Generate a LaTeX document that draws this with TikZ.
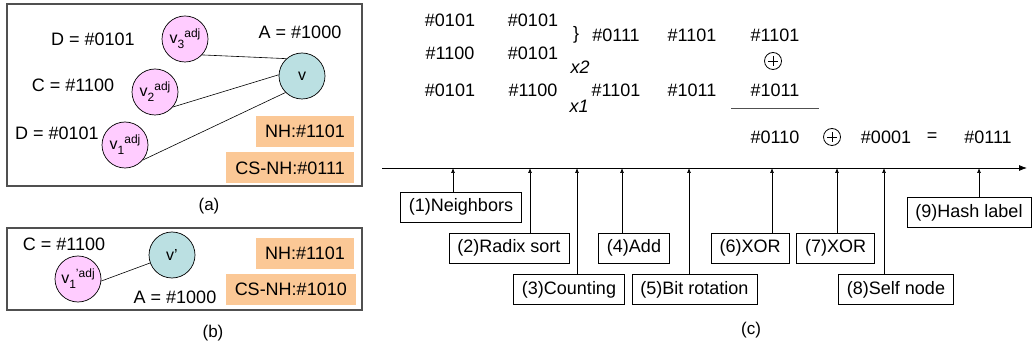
\documentclass[tikz,border=0pt]{standalone}
\usepackage{fontspec}
\setmainfont{Liberation Sans}
\usetikzlibrary{arrows.meta}
\definecolor{pinkc}{RGB}{255,204,255}
\definecolor{tealc}{RGB}{187,224,226}
\definecolor{orangec}{RGB}{251,200,150}
\definecolor{framec}{RGB}{80,80,80}
\newcommand\myvadj[2]{v\raisebox{-5pt}{\fontsize{12}{12}\selectfont #1}\raisebox{6pt}{\fontsize{12}{12}\selectfont #2}}
\begin{document}
\begin{tikzpicture}[x=1pt,y=-1pt,
  every node/.style={font=\fontsize{18}{21}\selectfont},
  frame/.style={draw=framec,line width=1.1pt},
  adjnode/.style={circle,draw,line width=0.7pt,fill=pinkc,minimum size=46pt,inner sep=0pt,font=\fontsize{16}{18}\selectfont},
  selfnode/.style={circle,draw,line width=0.7pt,fill=tealc,minimum size=46pt,inner sep=0pt,font=\fontsize{16}{18}\selectfont},
  tag/.style={fill=orangec,minimum height=31pt,inner xsep=9pt,inner ysep=0pt,anchor=east},
  link/.style={line width=0.6pt},
  stepbox/.style={draw,line width=0.7pt,minimum height=30pt,inner xsep=8.5pt,inner ysep=0pt},
  up/.style={-{Latex[length=5pt,width=4pt]},line width=0.7pt},
  xorsym/.style={circle,draw,line width=0.8pt,minimum size=17pt,inner sep=0pt,
    path picture={\draw[line width=0.8pt] ([yshift=-3.5pt]path picture bounding box.north) -- ([yshift=3.5pt]path picture bounding box.south);
                  \draw[line width=0.8pt] ([xshift=3.5pt]path picture bounding box.west) -- ([xshift=-3.5pt]path picture bounding box.east);}},
  captext/.style={font=\fontsize{17}{20}\selectfont}
]
\useasboundingbox (0,0) rectangle (1032,347);

% ---------- panel (a)
\draw[frame] (7,4) rectangle (362,186);
\node (a3) [adjnode] at (185,39) {\myvadj{3}{adj}};
\node (a2) [adjnode] at (155,92) {\myvadj{2}{adj}};
\node (a1) [adjnode] at (125,145) {\myvadj{1}{adj}};
\node (av) [selfnode] at (302,76) {v};
\draw[link] (a3.-43) -- (av.132);
\draw[link] (a2.-40) -- (av.177);
\draw[link] (a1.-40) -- (av.225);
\node (la3) at (93,39) {D = \#0101};
\node (lav) at (300,32) {A = \#1000};
\node (la2) at (73,85) {C = \#1100};
\node (la1) at (57,133) {D = \#0101};
\node (nha) [tag] at (354,131.5) {NH:\#1101};
\node (csa) [tag] at (354,168) {CS-NH:\#0111};
\node (capa) [captext] at (209,206) {(a)};

% ---------- panel (b)
\draw[frame] (7,228) rectangle (362,310);
\node (b1) [adjnode] at (78,279) {\myvadj{1}{'adj}};
\node (bv) [selfnode] at (172,255) {v'};
\draw[link] (b1.-5) -- (bv.200);
\node (lb1) at (64,244) {C = \#1100};
\node (lbv) at (175,297) {A = \#1000};
\node (nhb) [tag] at (354,253) {NH:\#1101};
\node (csb) [tag] at (356,289) {CS-NH:\#1010};
\node (capb) [captext] at (213,333) {(b)};

% ---------- panel (c): computations
\node (r1a) at (450,20) {\#0101};
\node (r1b) at (533,20) {\#0101};
\node (r2a) at (450,53) {\#1100};
\node (r2b) at (533,53) {\#0101};
\node (r3a) at (450,90) {\#0101};
\node (r3b) at (533,90) {\#1100};
\node (br) at (576,35) {\}};
\node (x2) at (580,67) {\textit{x2}};
\node (x1) at (579,106) {\textit{x1}};
\node (c1) at (616,35) {\#0111};
\node (c2) at (692,35) {\#1101};
\node (c3) at (775,35) {\#1101};
\node (d1) at (616,90) {\#1101};
\node (d2) at (692,90) {\#1011};
\node (d3) at (775,90) {\#1011};
\node (xo1) [xorsym] at (773,61) {};
\coordinate (ul) at (731,108);
\coordinate (ur) at (819,108);
\draw[line width=0.8pt,draw=framec] (ul) -- (ur);
\node (e1) at (775,137) {\#0110};
\node (xo2) [xorsym] at (832,137) {};
\node (e2) at (886,137) {\#0001};
\node (eq) at (932,137) {=};
\node (e3) at (988,137) {\#0111};

% ---------- timeline
\coordinate (tl0) at (382,168);
\coordinate (tl1) at (1027,168);
\draw[-{Latex[length=8pt,width=6pt]},line width=0.8pt] (tl0) -- (tl1);
\foreach \i/\x in {1/453,2/530,3/577,4/622,5/689,6/772,7/837,8/884,9/979}
  \coordinate (t\i) at (\x,168);

\node (s1) [stepbox] at (461,207) {(1)Neighbors};
\node (s2) [stepbox] at (509,248) {(2)Radix sort};
\node (s3) [stepbox] at (569,289.5) {(3)Counting};
\node (s4) [stepbox] at (634,248) {(4)Add};
\node (s5) [stepbox] at (694.5,289.5) {(5)Bit rotation};
\node (s6) [stepbox] at (750,248) {(6)XOR};
\node (s7) [stepbox] at (835.5,248) {(7)XOR};
\node (s8) [stepbox] at (896,289.5) {(8)Self node};
\node (s9) [stepbox] at (969,212.5) {(9)Hash label};
\foreach \i in {1,...,9}
  \draw[up] (t\i |- s\i.north) -- (t\i);
\node (capc) [captext] at (751,330) {(c)};
\end{tikzpicture}
\end{document}
